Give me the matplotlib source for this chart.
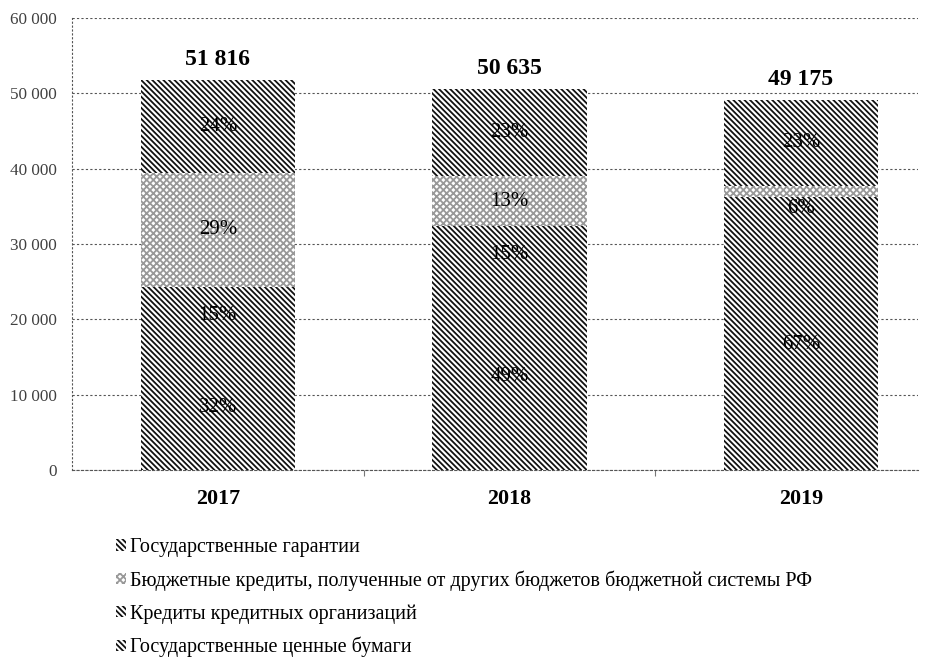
import matplotlib
matplotlib.use("Agg")
import matplotlib.pyplot as plt
import numpy as np

plt.rcParams['font.family'] = ['Liberation Serif', 'DejaVu Serif']
plt.rcParams['hatch.linewidth'] = 1.3

years = ['2017', '2018', '2019']
totals = [51816, 50635, 49175]

# shares in %, bottom to top
share_bonds = [32, 49, 67]      # Государственные ценные бумаги
share_bank = [15, 15, 6]        # Кредиты кредитных организаций
share_budget = [29, 13, 3]      # Бюджетные кредиты
share_guar = [24, 23, 23]       # Государственные гарантии

series_names = ['Государственные ценные бумаги',
                'Кредиты кредитных организаций',
                'Бюджетные кредиты, полученные от других бюджетов бюджетной системы РФ',
                'Государственные гарантии']
shares = [share_bonds, share_bank, share_budget, share_guar]

dense = '\\' * 6
hatches = [dense, dense, 'x' * 5, dense]
hatch_colors = ['#111111', '#111111', '#999999', '#111111']

fig = plt.figure(figsize=(9.36, 6.57), dpi=100)
ax = fig.add_axes([0.077, 0.2846, 0.904, 0.688])

x = np.arange(len(years))
width = 0.53
tot_share = np.sum(shares, axis=0)

bottom = np.zeros(len(years))
rects = []
for i in range(len(shares)):
    vals = np.array(totals) * np.array(shares[i]) / tot_share
    r = ax.bar(x, vals, width, bottom=bottom, color='white', edgecolor=hatch_colors[i],
               hatch=hatches[i], linewidth=0, label=series_names[i], zorder=3)
    rects.append(r)
    for j in range(len(years)):
        if shares[i][j] >= 5:
            ax.text(x[j], bottom[j] + vals[j] / 2, str(shares[i][j]) + '%',
                    ha='center', va='center', fontsize=15, color='black', zorder=4)
    bottom = bottom + vals

for j in range(len(years)):
    ax.annotate('{:,}'.format(totals[j]).replace(',', ' '),
                xy=(x[j], totals[j]), xytext=(0, 7), textcoords='offset points',
                ha='center', va='bottom', fontsize=17, fontweight='bold')

ax.set_ylim(0, 60000)
ax.set_xlim(-0.5, 2.402)
ax.set_yticks(np.arange(0, 60001, 10000))
ax.set_yticklabels(['{:,}'.format(v).replace(',', ' ') for v in range(0, 60001, 10000)])
ax.tick_params(axis='y', length=0, pad=11, labelsize=12.3, labelcolor='#404040')

ax.set_xticks(x)
ax.set_xticklabels(years, fontweight='bold', fontsize=15.8)
ax.tick_params(axis='x', length=0, pad=14)
ax.set_xticks([0.5, 1.5], minor=True)
ax.tick_params(axis='x', which='minor', length=4, width=0.8, color='#777777')

ax.yaxis.grid(True, linestyle=(0, (2, 2)), color='#555555', linewidth=0.8, zorder=0)
for s in ['top', 'right']:
    ax.spines[s].set_visible(False)
ax.spines['left'].set_linestyle((0, (1, 2.5)))
ax.spines['left'].set_color('#555555')
ax.spines['bottom'].set_linestyle((0, (2, 2)))
ax.spines['bottom'].set_color('#555555')
ax.spines['bottom'].set_linewidth(0.8)

handles = rects[::-1]
labels = series_names[::-1]
fig.legend(handles, labels, loc='upper left', bbox_to_anchor=(0.124, 0.181),
           frameon=False, fontsize=14.5, handlelength=0.5, handleheight=0.5,
           handletextpad=0.2, labelspacing=0.66, borderaxespad=0, borderpad=0)

fig.savefig('out.png', dpi=100)
